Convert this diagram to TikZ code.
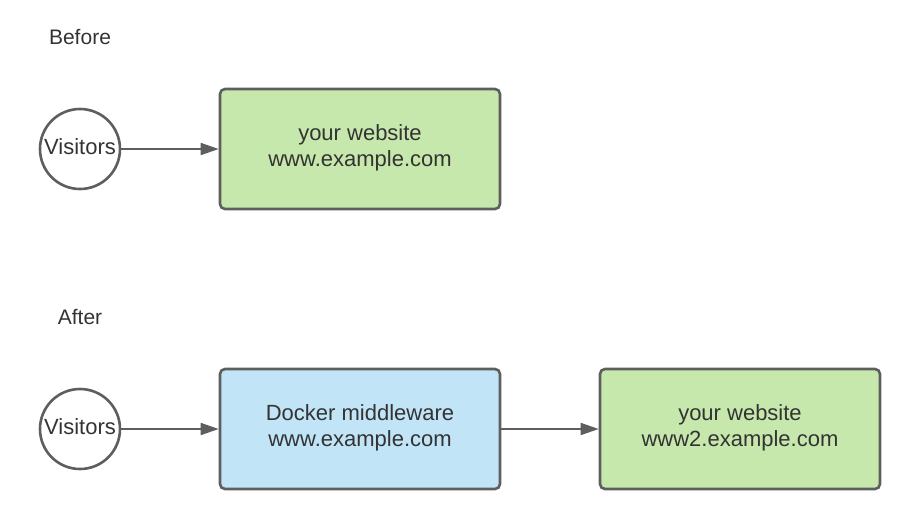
\documentclass[tikz,border=0pt]{standalone}
\usepackage{fontspec}
\setmainfont{Liberation Sans}
\usetikzlibrary{arrows.meta}
\definecolor{strokec}{HTML}{5E5E5E}
\definecolor{greenf}{HTML}{C7E8AC}
\definecolor{bluef}{HTML}{C1E4F7}
\definecolor{textc}{HTML}{333333}
\tikzset{
  boxst/.style={draw=strokec, line width=2.6pt, rounded corners=5pt, minimum width=280pt, minimum height=120pt},
  visst/.style={draw=strokec, line width=2.6pt, circle, minimum size=80pt, inner sep=0pt},
  txt/.style={text=textc, font=\fontsize{22}{26}\selectfont, align=center, inner sep=0pt},
  arr/.style={draw=strokec, line width=1.6pt, -{Triangle[length=18pt,width=12pt]}},
  lbl/.style={text=textc, font=\fontsize{21}{26}\selectfont}
}
\begin{document}
\begin{tikzpicture}[x=1pt,y=-1pt]
\useasboundingbox (0,0) rectangle (920,520);
\node[lbl] (before) at (80,37) {Before};
\node[lbl] (after) at (80,317) {After};
\node[visst] (v1) at (80,149) {};
\node[txt] (v1t) at (80,147) {Visitors};
\node[boxst, fill=greenf] (w1) at (360,149) {};
\node[txt] (t1) at (360,148) {your website\\www.example.com};
\draw[arr] (v1) -- (w1);
\node[visst] (v2) at (80,429) {};
\node[txt] (v2t) at (80,427) {Visitors};
\node[boxst, fill=bluef] (d) at (360,429) {};
\node[txt] (t2) at (360,428) {Docker middleware\\www.example.com};
\node[boxst, fill=greenf] (w2) at (740,429) {};
\node[txt] (t3) at (740,428) {your website\\www2.example.com};
\draw[arr] (v2) -- (d);
\draw[arr] (d) -- (w2);
\end{tikzpicture}
\end{document}
